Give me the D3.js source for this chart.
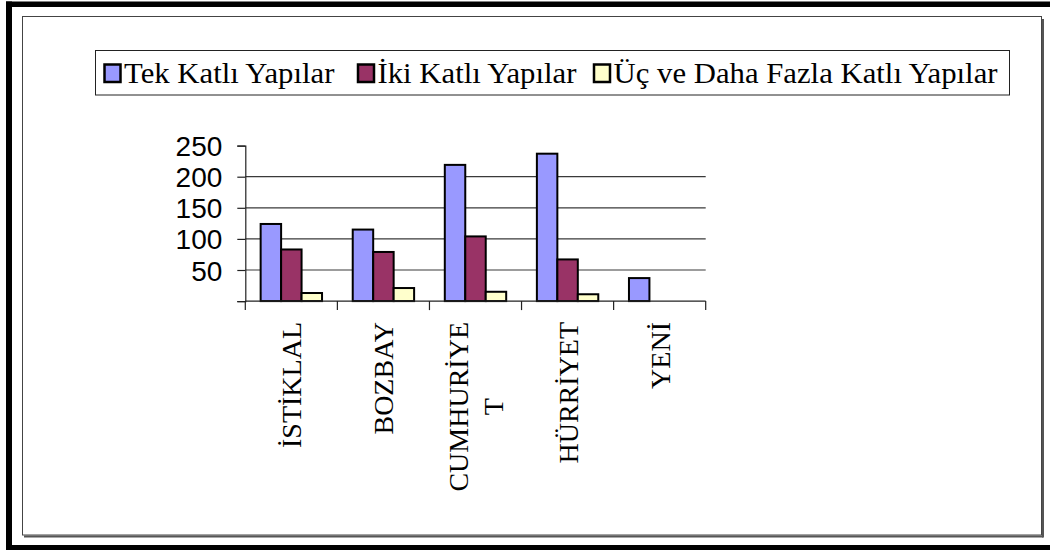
<!DOCTYPE html>
<html>
<head>
<meta charset="utf-8">
<script src="https://cdn.jsdelivr.net/npm/d3@7"></script>
<style>
  body { margin: 0; background: #fff; }
  svg { display: block; }
</style>
</head>
<body>
<svg id="chart" width="1050" height="550"></svg>
<script>
// Building counts per neighbourhood, by number of storeys
const categories = ["İSTİKLAL", "BOZBAY", "CUMHURİYET", "HÜRRİYET", "YENİ"];
const seriesNames = ["Tek Katlı Yapılar", "İki Katlı Yapılar", "Üç ve Daha Fazla Katlı Yapılar"];
const tekKatli = [124, 115, 219, 237, 37];
const ikiKatli = [83, 79, 104, 67, 0];
const ucKatli = [13, 21, 15, 11, 0];
const yTicks = [0, 50, 100, 150, 200, 250];
const gridValues = [50, 100, 150, 200];
const seriesColors = ["#9999FF", "#993366", "#FFFFCC"];

const seriesValues = [tekKatli, ikiKatli, ucKatli];
const rows = categories.map((c, i) => ({
  category: c,
  values: seriesNames.map((s, j) => ({ series: s, value: seriesValues[j][i], color: seriesColors[j] }))
}));

const svg = d3.select("#chart");
const serif = "'Liberation Serif', 'Times New Roman', serif";
const sans = "'Liberation Sans', Arial, sans-serif";

// ---- outer frame ----
svg.append("rect").attr("x", 6).attr("y", 1.5).attr("width", 1044).attr("height", 5.5).attr("fill", "#000");
svg.append("rect").attr("x", 6).attr("y", 1.5).attr("width", 6).attr("height", 548.5).attr("fill", "#000");
svg.append("rect").attr("x", 6).attr("y", 545).attr("width", 1044).attr("height", 5).attr("fill", "#000");

// chart area border with a soft shadow on the right and bottom
svg.append("line").attr("x1", 24).attr("x2", 1043).attr("y1", 536.5).attr("y2", 536.5)
  .attr("stroke", "#555").attr("stroke-width", 2);
svg.append("line").attr("x1", 1043).attr("x2", 1043).attr("y1", 19).attr("y2", 537.5)
  .attr("stroke", "#555").attr("stroke-width", 2);
svg.append("rect").attr("x", 22.5).attr("y", 16.5).attr("width", 1019).attr("height", 518.5)
  .attr("fill", "none").attr("stroke", "#444").attr("stroke-width", 1);

// ---- scales ----
const plot = { left: 245.3, right: 705.7, top: 145.6, bottom: 301.1 };
const x0 = d3.scaleBand().domain(categories).range([plot.left, plot.right]).paddingInner(0).paddingOuter(0);
const x1 = d3.scaleBand().domain(seriesNames).range([0, x0.bandwidth()]).paddingInner(0).paddingOuter(0.75);
const y = d3.scaleLinear().domain([0, 250]).range([plot.bottom, plot.top]);

// ---- gridlines ----
svg.append("g").selectAll("line").data(gridValues).join("line")
  .attr("x1", plot.left).attr("x2", plot.right)
  .attr("y1", d => y(d)).attr("y2", d => y(d))
  .attr("stroke", "#3a3a3a").attr("stroke-width", 1.2);

// ---- bars ----
const groups = svg.append("g").selectAll("g").data(rows).join("g")
  .attr("transform", d => `translate(${x0(d.category)},0)`);
groups.selectAll("rect").data(d => d.values.filter(v => v.value > 0)).join("rect")
  .attr("x", d => x1(d.series))
  .attr("y", d => y(d.value))
  .attr("width", x1.bandwidth())
  .attr("height", d => y(0) - y(d.value))
  .attr("fill", d => d.color)
  .attr("stroke", "#000")
  .attr("stroke-width", 2);

// ---- value axis ----
const yAxis = d3.axisLeft(y).tickValues(yTicks).tickSize(8).tickPadding(15)
  .tickFormat(d => d === 0 ? "" : d3.format("d")(d));
const gy = svg.append("g").attr("transform", `translate(${plot.left},0)`).call(yAxis);
gy.select(".domain").attr("stroke", "#222").attr("stroke-width", 1.2);
gy.selectAll(".tick line").attr("stroke", "#222").attr("stroke-width", 1.2);
gy.selectAll(".tick text").attr("font-family", sans).attr("font-size", 28).attr("fill", "#000").attr("dy", "0.36em");

// ---- category axis ----
const baseline = svg.append("g");
baseline.append("line").attr("x1", plot.left).attr("x2", plot.right)
  .attr("y1", y(0)).attr("y2", y(0)).attr("stroke", "#222").attr("stroke-width", 1.2);
const boundaries = categories.map(c => x0(c)).concat([plot.right]);
baseline.selectAll("line.tick").data(boundaries).join("line").attr("class", "tick")
  .attr("x1", d => d).attr("x2", d => d)
  .attr("y1", y(0)).attr("y2", y(0) + 9)
  .attr("stroke", "#222").attr("stroke-width", 1.2);

// Rotated category labels, wrapped when longer than the available length
const labelSize = 28;
const lineStep = 35;
const maxLabelLength = 175;
const measurer = svg.append("text").attr("font-family", serif).attr("font-size", labelSize).attr("visibility", "hidden");
function textWidth(s) { measurer.text(s); return measurer.node().getComputedTextLength(); }
function wrap(label) {
  const lines = [];
  let cur = "";
  for (const ch of Array.from(label)) {
    if (cur && textWidth(cur + ch) > maxLabelLength) { lines.push(cur); cur = ch; }
    else cur += ch;
  }
  if (cur) lines.push(cur);
  return lines;
}
const labelTop = 322;
categories.forEach(c => {
  const lines = wrap(c);
  const maxW = d3.max(lines, textWidth);
  const cx = x0(c) + x0.bandwidth() / 2;
  const g = svg.append("g").attr("transform", `translate(${cx},${labelTop}) rotate(-90)`);
  lines.forEach((ln, i) => {
    g.append("text")
      .attr("x", -maxW / 2)
      .attr("y", 10 - (lines.length - 1) * lineStep / 2 + i * lineStep)
      .attr("text-anchor", "middle")
      .attr("font-family", serif).attr("font-size", labelSize).attr("fill", "#000")
      .text(ln);
  });
});
measurer.remove();

// ---- legend ----
const legendSize = 29;
const legendStretch = 1.06;              // legend type is set slightly wide
const legendItemX = [104.5, 358, 594];   // swatch positions inside the legend box
const legend = svg.append("g");
legend.append("rect").attr("x", 95.5).attr("y", 50.5).attr("width", 914).attr("height", 44.5)
  .attr("fill", "#fff").attr("stroke", "#222").attr("stroke-width", 1);
const items = legend.selectAll("g").data(seriesNames).join("g")
  .attr("transform", (d, i) => `translate(${legendItemX[i]},0)`);
items.append("rect").attr("x", 0).attr("y", 64.5).attr("width", 16).attr("height", 17.5)
  .attr("fill", (d, i) => seriesColors[i]).attr("stroke", "#000").attr("stroke-width", 2.5);
items.append("text")
  .attr("transform", `translate(19.5,83) scale(${legendStretch},1)`)
  .attr("font-family", serif).attr("font-size", legendSize).attr("fill", "#000")
  .text(d => d);
</script>
</body>
</html>
